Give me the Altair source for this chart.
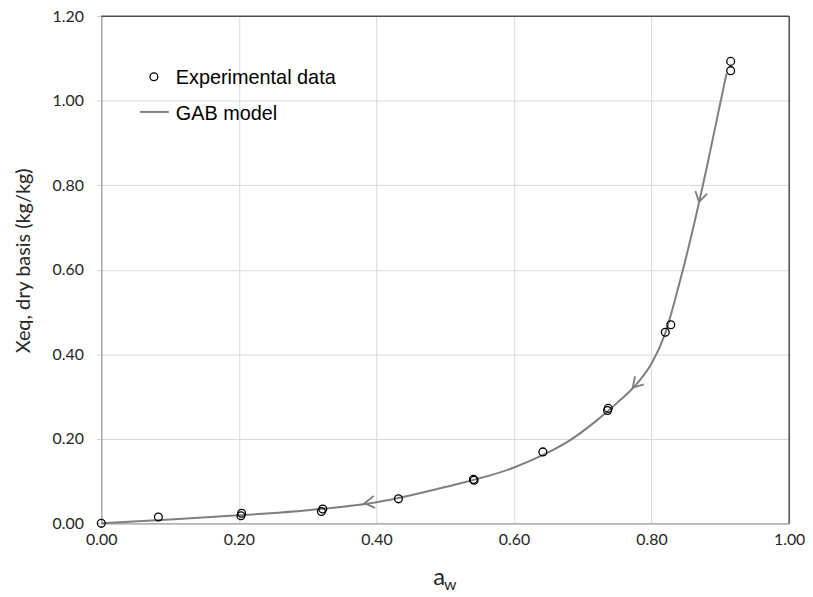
import altair as alt
import pandas as pd

exp_aw = [0.000, 0.083, 0.204, 0.203, 0.322, 0.320, 0.432, 0.541, 0.542, 0.642,
          0.737, 0.736, 0.820, 0.828, 0.915, 0.915]
exp_x = [0.000, 0.015, 0.024, 0.018, 0.034, 0.028, 0.058, 0.104, 0.102, 0.169,
         0.272, 0.267, 0.452, 0.470, 1.093, 1.071]

# GAB model curve
gab_aw = [0.00, 0.10, 0.20, 0.30, 0.40, 0.50, 0.60, 0.64, 0.68, 0.72, 0.75,
          0.78, 0.80, 0.82, 0.84, 0.86, 0.88, 0.90, 0.909]
gab_x = [0.000, 0.009, 0.019, 0.031, 0.050, 0.086, 0.132, 0.160, 0.195, 0.243, 0.285,
         0.333, 0.378, 0.450, 0.565, 0.695, 0.840, 0.995, 1.064]

# direction arrows on the curve
arrow_aw = [0.869, 0.7725, 0.3826]
arrow_x = [0.760, 0.321, 0.0477]
arrow_angle = [103, 133, 173]

x_ticks = [0.0, 0.2, 0.4, 0.6, 0.8, 1.0]
y_ticks = [0.0, 0.2, 0.4, 0.6, 0.8, 1.0, 1.2]

W, H = 693, 511
LINE = "#7f7f7f"
CHEVRON = "M -1.5 -0.9 L 0 0 L -1.5 0.9"

df_exp = pd.DataFrame({"aw": exp_aw, "x": exp_x})
df_gab = pd.DataFrame({"aw": gab_aw, "x": gab_x})
df_arr = pd.DataFrame({"aw": arrow_aw, "x": arrow_x, "ang": arrow_angle})
one = pd.DataFrame({"k": [0]})

xs = alt.Scale(domain=[0, 1], nice=False)
ys = alt.Scale(domain=[0, 1.2], nice=False)

x_axis = alt.Axis(values=x_ticks, format=".2f", title=None, ticks=False,
                  labelPadding=8, domainColor="#a0a0a0", domainWidth=1.3,
                  gridColor="#d9d9d9", labelFont="Lato", labelFontSize=16,
                  labelColor="#262626", labelFlush=False, labelOverlap=False)
y_axis = alt.Axis(values=y_ticks, format=".2f", title="Xeq, dry basis (kg/kg)",
                  tickSize=5, tickColor="#d0d0d0", labelPadding=13,
                  domainColor="#a0a0a0", domainWidth=1.3, gridColor="#d9d9d9",
                  labelFont="Lato", labelFontSize=16, labelColor="#262626",
                  labelOverlap=False, titleFont="Lato", titleFontSize=20,
                  titleFontWeight="normal", titleColor="#262626",
                  titleX=-78, titleY=246, titleAngle=270, titleAlign="center",
                  titleBaseline="middle")

gab = alt.Chart(df_gab).mark_line(color=LINE, strokeWidth=2, interpolate="monotone").encode(
    x=alt.X("aw:Q", scale=xs, axis=x_axis),
    y=alt.Y("x:Q", scale=ys, axis=y_axis),
)

arrows = alt.Chart(df_arr).mark_point(shape=CHEVRON, size=180, color=LINE, strokeWidth=1.8,
                                      filled=False, opacity=1).encode(
    x=alt.X("aw:Q", scale=xs),
    y=alt.Y("x:Q", scale=ys),
    angle=alt.Angle("ang:Q", scale=None),
)

pts = alt.Chart(df_exp).mark_point(shape="circle", size=62, color="black", strokeWidth=1.3,
                                   filled=False, opacity=1).encode(
    x=alt.X("aw:Q", scale=xs),
    y=alt.Y("x:Q", scale=ys),
)

base1 = alt.Chart(one)
top_border = base1.mark_rule(color="black", strokeWidth=1).encode(
    x=alt.value(0), x2=alt.value(W), y=alt.value(0))
right_border = base1.mark_rule(color="black", strokeWidth=1).encode(
    x=alt.value(W), y=alt.value(0), y2=alt.value(H))

leg_pt = base1.mark_point(shape="circle", size=62, color="black", strokeWidth=1.3,
                          filled=False, opacity=1).encode(x=alt.value(53), y=alt.value(61))
leg_line = base1.mark_rule(color=LINE, strokeWidth=2).encode(
    x=alt.value(39), x2=alt.value(68), y=alt.value(96.5))
leg_t1 = base1.mark_text(align="left", baseline="middle", font="Liberation Sans",
                         fontSize=20, color="black").encode(
    x=alt.value(75), y=alt.value(62), text=alt.value("Experimental data"))
leg_t2 = base1.mark_text(align="left", baseline="middle", font="Liberation Sans",
                         fontSize=20, color="black").encode(
    x=alt.value(75), y=alt.value(99), text=alt.value("GAB model"))

xt_a = base1.mark_text(align="center", baseline="alphabetic", font="Lato",
                       fontSize=24, color="#262626").encode(
    x=alt.value(340.5), y=alt.value(573), text=alt.value("a"))
xt_w = base1.mark_text(align="center", baseline="alphabetic", font="Lato",
                       fontSize=16, color="#262626").encode(
    x=alt.value(351.5), y=alt.value(578), text=alt.value("w"))

chart = alt.layer(
    gab, arrows, pts, top_border, right_border, leg_pt, leg_line, leg_t1, leg_t2, xt_a, xt_w
).properties(
    width=W, height=H,
    autosize=alt.AutoSizeParams(type="none"),
    padding={"left": 94, "top": 6, "right": 16, "bottom": 72},
).configure_view(stroke="transparent")

chart.save("out.html", embed_options={"renderer": "svg", "actions": False})
